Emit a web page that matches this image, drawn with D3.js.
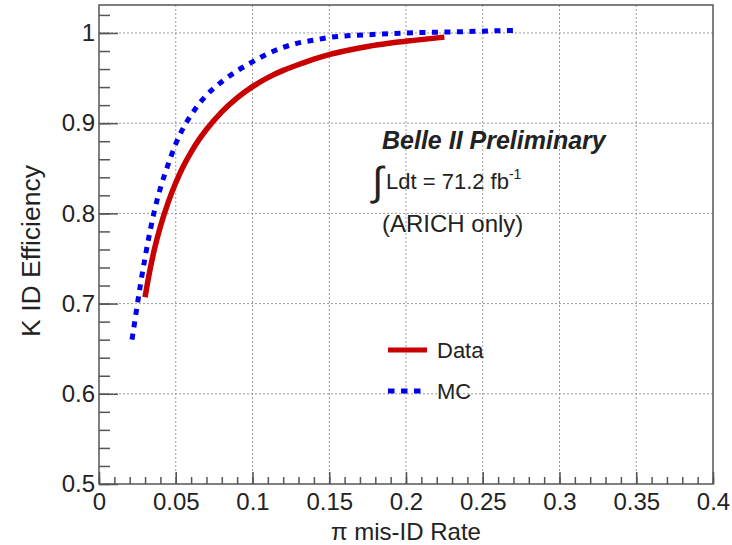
<!DOCTYPE html>
<html>
<head>
<meta charset="utf-8">
<script src="https://cdn.jsdelivr.net/npm/d3@7"></script>
<style>
  html, body { margin: 0; padding: 0; background: #fff; }
  svg { display: block; font-family: "Liberation Sans", Arial, Helvetica, sans-serif; }
</style>
</head>
<body>
<svg id="chart" width="732" height="545"></svg>
<script>
// K identification efficiency vs pion mis-ID rate (ARICH only)
const xTicks = [0, 0.05, 0.1, 0.15, 0.2, 0.25, 0.3, 0.35, 0.4];
const xTickLabels = ["0", "0.05", "0.1", "0.15", "0.2", "0.25", "0.3", "0.35", "0.4"];
const yTicks = [0.5, 0.6, 0.7, 0.8, 0.9, 1.0];
const yTickLabels = ["0.5", "0.6", "0.7", "0.8", "0.9", "1"];

// Data curve
const dataRate = [0.030, 0.033, 0.036, 0.040, 0.045, 0.050, 0.055, 0.060, 0.065, 0.070,
                  0.080, 0.090, 0.100, 0.110, 0.120, 0.130, 0.140, 0.150, 0.160, 0.175,
                  0.190, 0.205, 0.225];
const dataEff  = [0.707, 0.7355, 0.7595, 0.7855, 0.812, 0.834, 0.8525, 0.868, 0.8815, 0.893,
                  0.9125, 0.928, 0.9405, 0.9505, 0.9585, 0.965, 0.971, 0.976, 0.980, 0.985,
                  0.9888, 0.9918, 0.9954];

// MC curve
const mcRate = [0.0215, 0.024, 0.027, 0.030, 0.033, 0.036, 0.040, 0.045, 0.050, 0.055,
                0.060, 0.065, 0.070, 0.080, 0.090, 0.100, 0.110, 0.120, 0.130, 0.140,
                0.150, 0.175, 0.200, 0.225, 0.250, 0.273];
const mcEff  = [0.660, 0.688, 0.721, 0.751, 0.778, 0.802, 0.828, 0.854, 0.877, 0.895,
                0.909, 0.921, 0.931, 0.946, 0.958, 0.968, 0.977, 0.984, 0.989, 0.992,
                0.995, 0.998, 1.000, 1.001, 1.002, 1.003];

const legendLabels = ["Data", "MC"];
const seriesColors = ["#c80000", "#0000ee"];

const svg = d3.select("#chart");
const frame = { left: 99, right: 713, top: 5, bottom: 484 };

const x = d3.scaleLinear().domain([0, 0.4]).range([frame.left, frame.right]);
const y = d3.scaleLinear().domain([0.5, 1.031]).range([frame.bottom, frame.top]);

const frameColor = "#555";
const textColor = "#222";

// dotted grid at major ticks
const grid = svg.append("g").attr("stroke", "#9a9a9a").attr("stroke-width", 1)
  .attr("stroke-dasharray", "2,2");
grid.selectAll("line.gx").data(xTicks.filter(v => v > 0 && v < 0.4)).join("line")
  .attr("class", "gx")
  .attr("x1", d => x(d)).attr("x2", d => x(d))
  .attr("y1", frame.top).attr("y2", frame.bottom);
grid.selectAll("line.gy").data(yTicks.filter(v => v > 0.5)).join("line")
  .attr("class", "gy")
  .attr("y1", d => y(d)).attr("y2", d => y(d))
  .attr("x1", frame.left).attr("x2", frame.right);

// minor ticks
const xMinor = d3.range(0, 0.4001, 0.01);
const yMinor = d3.range(0.5, 1.031, 0.02);
svg.append("g").attr("transform", `translate(0,${frame.bottom})`)
  .call(d3.axisBottom(x).tickValues(xMinor).tickSize(-7).tickFormat(""))
  .call(g => g.select(".domain").remove())
  .call(g => g.selectAll("line").attr("stroke", frameColor).attr("stroke-width", 1.5));
svg.append("g").attr("transform", `translate(${frame.left},0)`)
  .call(d3.axisLeft(y).tickValues(yMinor).tickSize(-11).tickFormat(""))
  .call(g => g.select(".domain").remove())
  .call(g => g.selectAll("line").attr("stroke", frameColor).attr("stroke-width", 1.5));

// major ticks and labels
const xAxis = svg.append("g").attr("transform", `translate(0,${frame.bottom})`)
  .call(d3.axisBottom(x).tickValues(xTicks).tickSize(-12).tickPadding(9)
    .tickFormat((d, i) => xTickLabels[i]));
xAxis.select(".domain").remove();
xAxis.selectAll("line").attr("stroke", frameColor).attr("stroke-width", 1.5);
xAxis.selectAll("text").attr("font-size", 24).attr("fill", textColor)
  .attr("font-family", "Liberation Sans, Arial, sans-serif");

const yAxis = svg.append("g").attr("transform", `translate(${frame.left},0)`)
  .call(d3.axisLeft(y).tickValues(yTicks).tickSize(-19).tickPadding(4)
    .tickFormat((d, i) => yTickLabels[i]));
yAxis.select(".domain").remove();
yAxis.selectAll("line").attr("stroke", frameColor).attr("stroke-width", 1.5);
yAxis.selectAll("text").attr("font-size", 24).attr("fill", textColor)
  .attr("font-family", "Liberation Sans, Arial, sans-serif");

// frame
svg.append("rect").attr("x", frame.left).attr("y", frame.top)
  .attr("width", frame.right - frame.left).attr("height", frame.bottom - frame.top)
  .attr("fill", "none").attr("stroke", frameColor).attr("stroke-width", 1.5);

// curves
const line = d3.line().x(d => x(d[0])).y(d => y(d[1])).curve(d3.curveMonotoneX);
const dataPts = dataRate.map((r, i) => [r, dataEff[i]]);
const mcPts = mcRate.map((r, i) => [r, mcEff[i]]);

svg.append("path").datum(mcPts).attr("d", line)
  .attr("fill", "none").attr("stroke", seriesColors[1]).attr("stroke-width", 5)
  .attr("stroke-dasharray", "6,6.5");
svg.append("path").datum(dataPts).attr("d", line)
  .attr("fill", "none").attr("stroke", seriesColors[0]).attr("stroke-width", 5.5);

// axis titles
svg.append("text").attr("x", (frame.left + frame.right) / 2).attr("y", 540)
  .attr("text-anchor", "middle").attr("font-size", 24).attr("fill", textColor)
  .text("π mis-ID Rate");
svg.append("text").attr("transform", "translate(40,251) rotate(-90)")
  .attr("text-anchor", "middle").attr("font-size", 26.5).attr("fill", textColor)
  .text("K ID Efficiency");

// annotation
svg.append("text").attr("x", 382).attr("y", 149)
  .attr("font-size", 25).attr("font-weight", "bold").attr("font-style", "italic")
  .attr("fill", textColor).text("Belle II Preliminary");
svg.append("text").attr("x", 372).attr("y", 195)
  .attr("font-size", 40).attr("fill", textColor).text("∫");
const lum = svg.append("text").attr("x", 386).attr("y", 189)
  .attr("font-size", 22).attr("fill", textColor);
lum.append("tspan").text("Ldt = 71.2 fb");
lum.append("tspan").attr("font-size", 14).attr("dy", -10).text("-1");
svg.append("text").attr("x", 382).attr("y", 232)
  .attr("font-size", 24).attr("fill", textColor).text("(ARICH only)");

// legend
const legend = svg.append("g");
const legY = [350, 391];
legend.selectAll("line").data(legendLabels).join("line")
  .attr("x1", 388).attr("x2", (d, i) => i === 0 ? 427 : 422)
  .attr("y1", (d, i) => legY[i]).attr("y2", (d, i) => legY[i])
  .attr("stroke", (d, i) => seriesColors[i])
  .attr("stroke-width", 5)
  .attr("stroke-dasharray", (d, i) => i === 0 ? null : "6.5,6.5");
legend.selectAll("text").data(legendLabels).join("text")
  .attr("x", 437).attr("y", (d, i) => legY[i] + 8)
  .attr("font-size", 22).attr("fill", textColor).text(d => d);
</script>
</body>
</html>
